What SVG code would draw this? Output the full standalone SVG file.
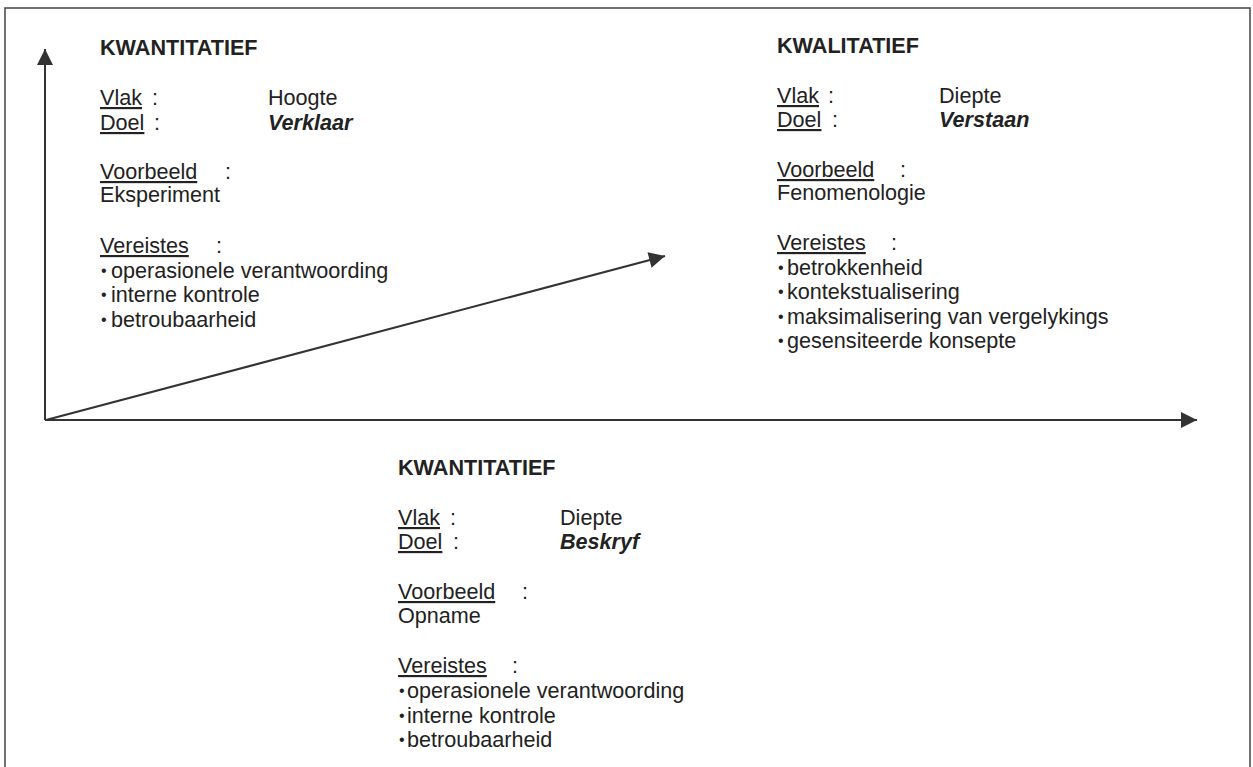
<svg xmlns="http://www.w3.org/2000/svg" width="1253" height="767" viewBox="0 0 1253 767">
<defs>
<marker id="ah" viewBox="0 0 10 10" refX="10" refY="5" markerWidth="17" markerHeight="16" markerUnits="userSpaceOnUse" orient="auto"><path d="M0,0 L10,5 L0,10 z" fill="#333"/></marker>
<style>
text{font-family:"Liberation Sans",Arial,sans-serif;font-size:21.6px;fill:#222}
.t{font-weight:bold}
.b{font-weight:bold;font-style:italic}
.u{text-decoration:underline}
.d{font-size:16px}
.ax{stroke:#333;stroke-width:2;fill:none}
</style>
</defs>
<rect x="0" y="0" width="1253" height="767" fill="#fff"/>
<rect x="5" y="8" width="1245" height="800" fill="none" stroke="#444" stroke-width="1.5"/>
<g id="connectors">
<line class="ax" x1="45" y1="420" x2="45" y2="49" marker-end="url(#ah)"/>
<line class="ax" x1="45" y1="420" x2="1197" y2="420" marker-end="url(#ah)"/>
<line class="ax" x1="46" y1="420" x2="665" y2="256" marker-end="url(#ah)"/>
</g>
<g id="kwantitatief-top">
<text class="t" x="100" y="55">KWANTITATIEF</text>
<text class="u" x="100" y="105">Vlak</text><text x="152" y="105">:</text><text x="268" y="105">Hoogte</text>
<text class="u" x="100" y="130">Doel</text><text x="154" y="130">:</text><text class="b" x="268" y="130">Verklaar</text>
<text class="u" x="100" y="179">Voorbeeld</text><text x="225" y="179">:</text>
<text x="100" y="202">Eksperiment</text>
<text class="u" x="100" y="253">Vereistes</text><text x="216" y="253">:</text>
<text class="d" x="101" y="276">•</text><text x="111" y="278">operasionele verantwoording</text>
<text class="d" x="101" y="300">•</text><text x="111" y="302">interne kontrole</text>
<text class="d" x="101" y="325">•</text><text x="111" y="327">betroubaarheid</text>
</g>
<g id="kwalitatief">
<text class="t" x="777" y="53">KWALITATIEF</text>
<text class="u" x="777" y="103">Vlak</text><text x="828" y="103">:</text><text x="939" y="103">Diepte</text>
<text class="u" x="777" y="127">Doel</text><text x="832" y="127">:</text><text class="b" x="939" y="127">Verstaan</text>
<text class="u" x="777" y="177">Voorbeeld</text><text x="900" y="177">:</text>
<text x="777" y="200">Fenomenologie</text>
<text class="u" x="777" y="250">Vereistes</text><text x="891" y="250">:</text>
<text class="d" x="778" y="273">•</text><text x="787" y="275">betrokkenheid</text>
<text class="d" x="778" y="297">•</text><text x="787" y="299">kontekstualisering</text>
<text class="d" x="778" y="322">•</text><text x="787" y="324">maksimalisering van vergelykings</text>
<text class="d" x="778" y="346">•</text><text x="787" y="348">gesensiteerde konsepte</text>
</g>
<g id="kwantitatief-bottom">
<text class="t" x="398" y="475">KWANTITATIEF</text>
<text class="u" x="398" y="525">Vlak</text><text x="450" y="525">:</text><text x="560" y="525">Diepte</text>
<text class="u" x="398" y="549">Doel</text><text x="453" y="549">:</text><text class="b" x="560" y="549">Beskryf</text>
<text class="u" x="398" y="599">Voorbeeld</text><text x="522" y="599">:</text>
<text x="398" y="623">Opname</text>
<text class="u" x="398" y="673">Vereistes</text><text x="512" y="673">:</text>
<text class="d" x="399" y="696">•</text><text x="407" y="698">operasionele verantwoording</text>
<text class="d" x="399" y="721">•</text><text x="407" y="723">interne kontrole</text>
<text class="d" x="399" y="745">•</text><text x="407" y="747">betroubaarheid</text>
</g>
</svg>
